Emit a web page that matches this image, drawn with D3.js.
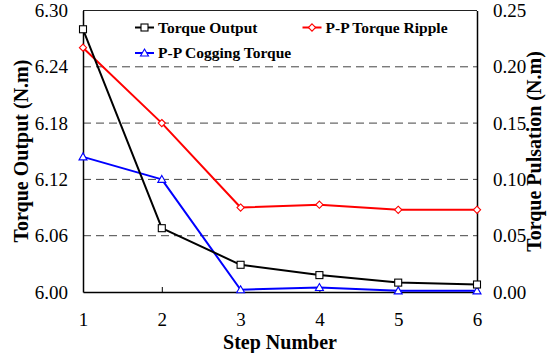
<!DOCTYPE html>
<html>
<head>
<meta charset="utf-8">
<script src="https://cdn.jsdelivr.net/npm/d3@7"></script>
<style>
  html, body { margin: 0; padding: 0; background: #fff; }
  svg { display: block; }
  svg text { font-family: "Liberation Serif", "Times New Roman", serif !important; fill: #000; }
</style>
</head>
<body>
<svg id="chart" width="558" height="353"></svg>
<script>
// Step numbers along the x axis
const steps = [1, 2, 3, 4, 5, 6];
// Average torque output per step (left axis, N.m)
const torqueOutput = [6.280, 6.068, 6.029, 6.018, 6.010, 6.008];
// Peak-to-peak torque ripple per step (right axis, N.m)
const torqueRipple = [0.217, 0.150, 0.075, 0.0775, 0.073, 0.073];
// Peak-to-peak cogging torque per step (right axis, N.m)
const coggingTorque = [0.120, 0.100, 0.002, 0.004, 0.001, 0.001];

const leftTicks = [6.00, 6.06, 6.12, 6.18, 6.24, 6.30];
const rightTicks = [0.00, 0.05, 0.10, 0.15, 0.20, 0.25];

const W = 558, H = 353;
const plot = { left: 83, right: 477, top: 10.5, bottom: 292 };
const serif = "'Liberation Serif', 'Times New Roman', serif";

const svg = d3.select("#chart");
svg.append("rect").attr("width", W).attr("height", H).attr("fill", "#fff");

const x = d3.scaleLinear().domain([1, 6]).range([plot.left, plot.right]);
const yL = d3.scaleLinear().domain([6.00, 6.30]).range([plot.bottom, plot.top]);
const yR = d3.scaleLinear().domain([0, 0.25]).range([plot.bottom, plot.top]);

// dashed horizontal gridlines
svg.append("g")
  .selectAll("line")
  .data(leftTicks.slice(1, -1))
  .join("line")
  .attr("x1", plot.left).attr("x2", plot.right)
  .attr("y1", d => yL(d)).attr("y2", d => yL(d))
  .attr("stroke", "#444").attr("stroke-width", 1)
  .attr("stroke-dasharray", "8,5");

// top frame line
svg.append("line")
  .attr("x1", plot.left).attr("x2", plot.right)
  .attr("y1", plot.top).attr("y2", plot.top)
  .attr("stroke", "#222").attr("stroke-width", 1.2);

const tickFont = 19;

function styleTicks(g) {
  g.attr("font-family", serif);
  g.selectAll("text")
    .style("font-family", serif)
    .style("font-size", tickFont + "px")
    .style("font-weight", "normal")
    .attr("fill", "#000");
}

// left axis
const gL = svg.append("g")
  .attr("transform", `translate(${plot.left},0)`)
  .call(d3.axisLeft(yL).tickValues(leftTicks).tickFormat(d3.format(".2f"))
    .tickSizeInner(0).tickSizeOuter(0).tickPadding(15));
gL.select(".domain").attr("stroke", "#000").attr("stroke-width", 1.5);
styleTicks(gL);

// right axis
const gR = svg.append("g")
  .attr("transform", `translate(${plot.right},0)`)
  .call(d3.axisRight(yR).tickValues(rightTicks).tickFormat(d3.format(".2f"))
    .tickSizeInner(0).tickSizeOuter(0).tickPadding(16));
gR.select(".domain").attr("stroke", "#000").attr("stroke-width", 1.5);
styleTicks(gR);

// bottom axis with short inward ticks
const gB = svg.append("g")
  .attr("transform", `translate(0,${plot.bottom})`)
  .call(d3.axisBottom(x).tickValues(steps).tickFormat(d3.format("d"))
    .tickSizeInner(-5).tickSizeOuter(0).tickPadding(21));
gB.select(".domain").attr("stroke", "#000").attr("stroke-width", 1.5);
gB.selectAll(".tick line").attr("stroke", "#000").attr("stroke-width", 1);
styleTicks(gB);

// axis titles
function title(sel) {
  return sel.attr("text-anchor", "middle")
    .style("font-family", serif).style("font-weight", "bold").style("font-size", "20px");
}
title(svg.append("text").attr("transform", "translate(28,151) rotate(-90)"))
  .text("Torque Output (N.m)");
title(svg.append("text").attr("transform", "translate(541,151.5) rotate(-90)"))
  .text("Torque Pulsation (N.m)");
title(svg.append("text").attr("x", 280).attr("y", 349))
  .text("Step Number");

// marker shapes
function drawMarker(g, kind, cx, cy, color) {
  if (kind === "square") {
    g.append("rect").attr("x", cx - 3.5).attr("y", cy - 3.5).attr("width", 7).attr("height", 7)
      .attr("fill", "#fff").attr("stroke", color).attr("stroke-width", 1.1);
  } else if (kind === "diamond") {
    g.append("path").attr("d", `M${cx},${cy - 3.6}L${cx + 3.6},${cy}L${cx},${cy + 3.6}L${cx - 3.6},${cy}Z`)
      .attr("fill", "#fff").attr("stroke", color).attr("stroke-width", 1.1);
  } else {
    g.append("path").attr("d", `M${cx},${cy - 4}L${cx + 4},${cy + 3}L${cx - 4},${cy + 3}Z`)
      .attr("fill", "#fff").attr("stroke", color).attr("stroke-width", 1.1);
  }
}

const series = [
  { name: "P-P Torque Ripple", values: torqueRipple, y: yR, color: "#ff0000", marker: "diamond" },
  { name: "P-P Cogging Torque", values: coggingTorque, y: yR, color: "#0000ff", marker: "triangle" },
  { name: "Torque Output", values: torqueOutput, y: yL, color: "#000000", marker: "square" }
];

series.forEach(s => {
  const g = svg.append("g");
  const line = d3.line().x((d, i) => x(steps[i])).y(d => s.y(d));
  g.append("path").datum(s.values).attr("d", line)
    .attr("fill", "none").attr("stroke", s.color).attr("stroke-width", 2)
    .attr("stroke-linejoin", "round");
  s.values.forEach((v, i) => drawMarker(g, s.marker, x(steps[i]), s.y(v), s.color));
});

// legend
const legendItems = [
  { name: "Torque Output", color: "#000000", marker: "square", x: 135, y: 27.5 },
  { name: "P-P Torque Ripple", color: "#ff0000", marker: "diamond", x: 302.5, y: 27.5 },
  { name: "P-P Cogging Torque", color: "#0000ff", marker: "triangle", x: 135, y: 53 }
];
legendItems.forEach(it => {
  const g = svg.append("g");
  g.append("line").attr("x1", it.x).attr("x2", it.x + 19).attr("y1", it.y).attr("y2", it.y)
    .attr("stroke", it.color).attr("stroke-width", 2);
  drawMarker(g, it.marker, it.x + 9.5, it.y, it.color);
  g.append("text").attr("x", it.x + 23).attr("y", it.y + 5.2)
    .style("font-family", serif).style("font-weight", "bold").style("font-size", "15.5px")
    .text(it.name);
});
</script>
</body>
</html>
